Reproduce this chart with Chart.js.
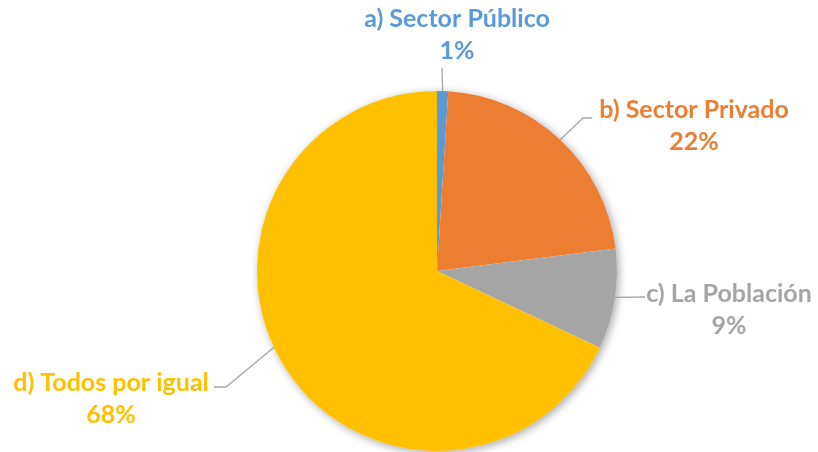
<!DOCTYPE html>
<html>
<head>
<meta charset="utf-8">
<script src="https://cdn.jsdelivr.net/npm/chart.js@4"></script>
<style>
  html, body { margin: 0; padding: 0; background: #ffffff; }
  #wrap { width: 818px; height: 452px; }
</style>
</head>
<body>
<div id="wrap"><canvas id="pie__Chart" width="818" height="452"></canvas></div>
<script>
// Categories and shares (%)
const categories = ['a) Sector Público', 'b) Sector Privado', 'c) La Población', 'd) Todos por igual'];
const shares = [1, 22, 9, 68];
const sliceColors = ['#5B9BD5', '#ED7D31', '#A5A5A5', '#FFC000'];

// Label placement (text centre offsets and leader elbows), kept apart from the data
const labelLayout = [
  { tx: 457, ty: 19, angleShift: 0, line: [[442, 68]] },
  { tx: 694, ty: 110, angleShift: 0, line: [[583, 118], [592, 118]] },
  { tx: 729, ty: 294, angleShift: -0.6, line: [[645, 297]] },
  { tx: 111, ty: 383, angleShift: 7.3, line: [[226, 387], [214, 387]] }
];

// Soft shadow under the pie, like the spreadsheet original
const pieShadow = {
  id: 'pieShadow',
  beforeDatasetsDraw(chart) {
    const arc = chart.getDatasetMeta(0).data[0];
    if (!arc) return;
    const ctx = chart.ctx;
    ctx.save();
    ctx.shadowColor = 'rgba(0,0,0,0.35)';
    ctx.shadowBlur = 8;
    ctx.shadowOffsetX = 2;
    ctx.shadowOffsetY = 2;
    ctx.fillStyle = '#ffffff';
    ctx.beginPath();
    ctx.arc(arc.x, arc.y, arc.outerRadius, 0, Math.PI * 2);
    ctx.fill();
    ctx.restore();
  }
};

// Outside labels with leader lines
const outsideLabels = {
  id: 'outsideLabels',
  afterDatasetsDraw(chart) {
    const ctx = chart.ctx;
    const meta = chart.getDatasetMeta(0);
    meta.data.forEach((arc, i) => {
      const spec = labelLayout[i];
      const mid = (arc.startAngle + arc.endAngle) / 2 + spec.angleShift * Math.PI / 180;
      const sx = arc.x + Math.cos(mid) * arc.outerRadius;
      const sy = arc.y + Math.sin(mid) * arc.outerRadius;

      ctx.save();
      ctx.strokeStyle = '#A6A6A6';
      ctx.lineWidth = 1.3;
      ctx.beginPath();
      ctx.moveTo(sx, sy);
      spec.line.forEach(p => ctx.lineTo(p[0], p[1]));
      ctx.stroke();

      ctx.fillStyle = sliceColors[i];
      ctx.font = 'bold 25px Lato, "Open Sans", sans-serif';
      ctx.textAlign = 'center';
      ctx.textBaseline = 'middle';
      ctx.fillText(categories[i], spec.tx, spec.ty);
      ctx.fillText(shares[i] + '%', spec.tx, spec.ty + 32);
      ctx.restore();
    });
  }
};

const ctx = document.getElementById('pie__Chart').getContext('2d');
const pieChart = new Chart(ctx, {
  type: 'pie',
  data: {
    labels: categories,
    datasets: [{
      data: shares,
      backgroundColor: sliceColors,
      borderWidth: 0
    }]
  },
  options: {
    responsive: false,
    animation: false,
    layout: {
      padding: { left: 257, right: 201, top: 91, bottom: 1 }
    },
    plugins: {
      legend: { display: false },
      tooltip: { enabled: false }
    }
  },
  plugins: [pieShadow, outsideLabels]
});
</script>
</body>
</html>
